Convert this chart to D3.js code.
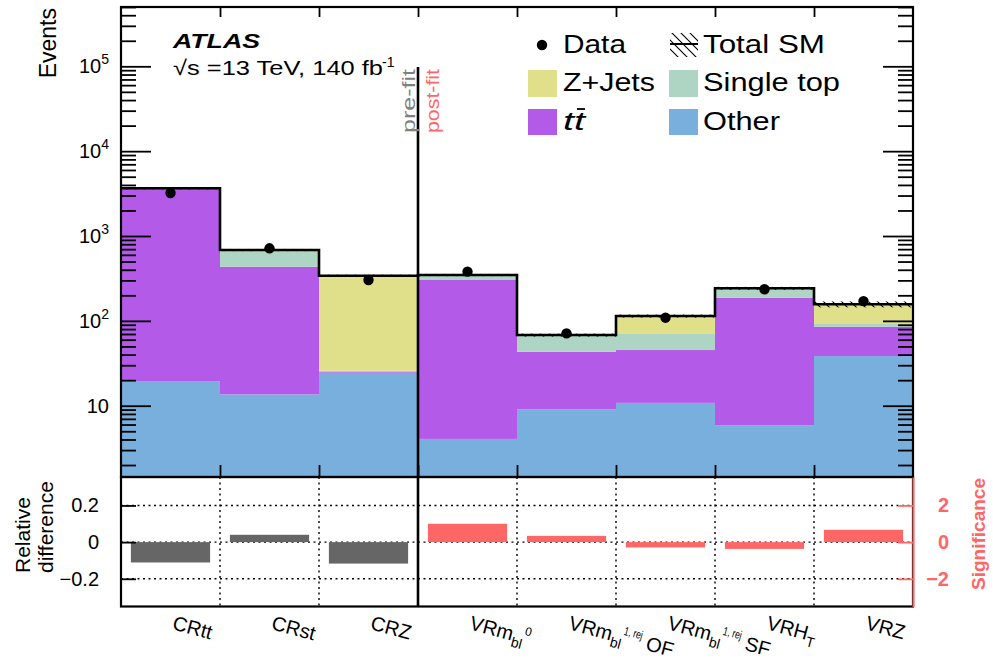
<!DOCTYPE html>
<html><head><meta charset="utf-8">
<script src="https://cdn.jsdelivr.net/npm/d3@7"></script>
<style>body{margin:0;background:#fff}svg{font-family:"Liberation Sans",Arial,Helvetica,sans-serif}</style>
</head><body><svg id="c" width="993" height="666"></svg>
<script>
// ---- data ----
const categories = ["CRtt","CRst","CRZ","VRm_{bl}^{0}","VRm_{bl}^{1, rej} OF","VRm_{bl}^{1, rej} SF","VRH_{T}","VRZ"];
const other     = [19.5, 13.6, 24.5, 4.06, 9.1, 10.8, 5.9, 38.5];
const ttbar     = [3580, 421, 0.8, 299, 34.2, 34.5, 181.6, 46.9];
const singleTop = [40, 245, 0.5, 40, 24, 26, 52, 6.5];
const zjets     = [10, 4, 314, 4, 0.7, 42.7, 2.5, 65];
const dataObs   = [3215, 716, 303, 380, 71.3, 109, 236, 171];
const totalUnc  = [0.03, 0.03, 0.03, 0.03, 0.04, 0.04, 0.04, 0.08];
const relDiff   = [-0.111, 0.040, -0.117];            // CR (pre-fit)
const significance = [1.0, 0.34, -0.29, -0.37, 0.67]; // VR (post-fit)
const yMajorTicks = [10, 100, 1000, 10000, 100000];
const lowerTicks = [-0.2, 0, 0.2];
const sigTicks = [-2, 0, 2];
const legendLabels = ["Data","Total SM","Z+Jets","Single top","tt","Other"];

// ---- layout ----
const X0=121, X1=913, YT=7, YM=477, YB=606.5;
const svg=d3.select("#c");
const nb=categories.length;
const x=d3.scaleLinear().domain([0,nb]).range([X0,X1]);
const y=d3.scaleLog().domain([1.445,5e5]).range([YM,YT]).clamp(true);
const yl=d3.scaleLinear().domain([-0.351,0.355]).range([YB,YM]);
const ys=d3.scaleLinear().domain([-3.51,3.55]).range([YB,YM]);

const keys=["other","ttbar","singleTop","zjets"];
const colors={other:"#79afdc",ttbar:"#b35ae9",singleTop:"#aed4c3",zjets:"#e0e08a"};
const rows=categories.map((c,i)=>({i,other:other[i],ttbar:ttbar[i],singleTop:singleTop[i],zjets:zjets[i]}));
const stacked=d3.stack().keys(keys)(rows);
const total=rows.map(r=>keys.reduce((s,k)=>s+r[k],0));

const defs=svg.append("defs");
const pat=defs.append("pattern").attr("id","hatch").attr("patternUnits","userSpaceOnUse").attr("width",9).attr("height",9);
pat.append("path").attr("d","M-1,-1L10,10M-5.5,3.5L5.5,14.5M3.5,-5.5L14.5,5.5").attr("stroke","#000").attr("stroke-width",1.1);

// stacked fills
const gS=svg.append("g");
stacked.forEach(layer=>{
  gS.selectAll(null).data(layer).enter().append("rect")
    .attr("x",d=>x(d.data.i)).attr("width",d=>x(d.data.i+1)-x(d.data.i))
    .attr("y",d=>y(d[1])).attr("height",d=>Math.max(0,y(Math.max(d[0],1e-3))-y(d[1])))
    .attr("fill",colors[layer.key]);
});
// uncertainty hatch
svg.append("g").selectAll("rect").data(total).enter().append("rect")
  .attr("x",(d,i)=>x(i)).attr("width",(d,i)=>x(i+1)-x(i))
  .attr("y",(d,i)=>y(d*(1+totalUnc[i]))).attr("height",(d,i)=>y(d*(1-totalUnc[i]))-y(d*(1+totalUnc[i])))
  .attr("fill","url(#hatch)");
// total outline
const pts=total.map((t,i)=>[i,t]).concat([[nb,total[nb-1]]]);
svg.append("path").attr("d",d3.line().x(d=>x(d[0])).y(d=>y(d[1])).curve(d3.curveStepAfter)(pts))
  .attr("fill","none").attr("stroke","#000").attr("stroke-width",2.6);
// data points
svg.append("g").selectAll("circle").data(dataObs).enter().append("circle")
  .attr("cx",(d,i)=>x(i+0.5)).attr("cy",d=>y(d)).attr("r",5.2).attr("fill","#000");

// ---- upper axes ----
const minorTicks=y.ticks().filter(v=>yMajorTicks.indexOf(v)<0 && Math.abs(Math.log10(v)%1)>1e-6);
function styleTicks(g,color){g.select(".domain").remove();g.selectAll(".tick line").attr("stroke",color||"#000").attr("stroke-width",1.8);}
svg.append("g").attr("transform",`translate(${X0},0)`).call(d3.axisLeft(y).tickValues(minorTicks).tickSize(-15).tickFormat("")).call(g=>styleTicks(g));
svg.append("g").attr("transform",`translate(${X1},0)`).call(d3.axisRight(y).tickValues(minorTicks).tickSize(-15).tickFormat("")).call(g=>styleTicks(g));
svg.append("g").attr("transform",`translate(${X1},0)`).call(d3.axisRight(y).tickValues(yMajorTicks).tickSize(-30).tickFormat("")).call(g=>styleTicks(g));
const gLM=svg.append("g").attr("transform",`translate(${X0},0)`)
  .call(d3.axisLeft(y).tickValues(yMajorTicks).tickSize(-30).tickPadding(12).tickFormat(""))
  .call(g=>styleTicks(g));
gLM.selectAll(".tick text").each(function(d){
  const t=d3.select(this).attr("font-size",20).attr("fill","#000").attr("font-family",null);
  const e=Math.round(Math.log10(d));
  t.append("tspan").text("10");
  if(e>1) t.append("tspan").attr("dy",-9).attr("font-size",14).text(e);
});
const edges=d3.range(1,nb);
svg.append("g").attr("transform",`translate(0,${YT})`).call(d3.axisTop(x).tickValues(edges).tickSize(-10).tickFormat("")).call(g=>styleTicks(g));
svg.append("g").attr("transform",`translate(0,${YM})`).call(d3.axisBottom(x).tickValues(edges).tickSize(-12).tickFormat("")).call(g=>styleTicks(g));

// ---- lower panel ----
const gG=svg.append("g").attr("stroke","#000").attr("stroke-width",1.4).attr("stroke-dasharray","2,3.5");
lowerTicks.forEach(v=>gG.append("line").attr("x1",X0).attr("x2",X1).attr("y1",yl(v)).attr("y2",yl(v)));
edges.filter(e=>e!==3).forEach(e=>gG.append("line").attr("x1",x(e)).attr("x2",x(e)).attr("y1",YM).attr("y2",YB));
// bars
svg.append("g").selectAll("rect").data(relDiff).enter().append("rect")
  .attr("x",(d,i)=>x(i+0.1)).attr("width",x(0.9)-x(0.1))
  .attr("y",d=>Math.min(yl(d),yl(0))).attr("height",d=>Math.abs(yl(d)-yl(0))).attr("fill","#666666");
svg.append("g").selectAll("rect").data(significance).enter().append("rect")
  .attr("x",(d,i)=>x(i+3+0.1)).attr("width",x(0.9)-x(0.1))
  .attr("y",d=>Math.min(ys(d),ys(0))).attr("height",d=>Math.abs(ys(d)-ys(0))).attr("fill","#ff6666");
// left lower axis
svg.append("g").attr("transform",`translate(${X0},0)`)
  .call(d3.axisLeft(yl).tickValues(lowerTicks).tickSize(-15).tickPadding(22).tickFormat(d=>d===0?"0":d3.format(".1f")(d)))
  .call(g=>styleTicks(g))
  .call(g=>g.selectAll(".tick text").attr("font-size",20).attr("fill","#000").attr("font-family",null));

// frames
svg.append("rect").attr("x",X0).attr("y",YT).attr("width",X1-X0).attr("height",YM-YT).attr("fill","none").attr("stroke","#000").attr("stroke-width",2.2);
svg.append("rect").attr("x",X0).attr("y",YM).attr("width",X1-X0).attr("height",YB-YM).attr("fill","none").attr("stroke","#000").attr("stroke-width",2.2);
// right significance axis
svg.append("g").attr("transform",`translate(${X1},0)`)
  .call(d3.axisRight(ys).tickValues(sigTicks).tickSize(-15).tickSizeOuter(0).tickFormat(d=>d3.format("d")(d)))
  .call(g=>{g.select(".domain").attr("stroke","#ff6666").attr("stroke-width",2);
    g.selectAll(".tick line").attr("stroke","#ff6666").attr("stroke-width",1.8);
    g.selectAll(".tick text").attr("x",36).attr("text-anchor","end").attr("font-size",20).attr("font-weight","bold").attr("fill","#ff6666").attr("font-family",null);});

// pre/post-fit separator
svg.append("line").attr("x1",x(3)).attr("x2",x(3)).attr("y1",67).attr("y2",YB).attr("stroke","#000").attr("stroke-width",2.6);
svg.append("text").attr("transform",`translate(415,69) rotate(-90)`).attr("text-anchor","end").attr("font-size",19)
  .attr("fill","#808080").attr("textLength",64).attr("lengthAdjust","spacingAndGlyphs").text("pre-fit");
svg.append("text").attr("transform",`translate(439,69) rotate(-90)`).attr("text-anchor","end").attr("font-size",19)
  .attr("fill","#ff6666").attr("textLength",64).attr("lengthAdjust","spacingAndGlyphs").text("post-fit");

// x labels
function addRich(t,str){
  const parts=str.split(/(_\{[^}]*\}|\^\{[^}]*\})/).filter(s=>s.length);
  let cur=0;
  parts.forEach(p=>{
    let target=0,fs=20,txt=p;
    if(p[0]==="_"){target=6;fs=14;txt=p.slice(2,-1);}
    else if(p[0]==="^"){target=-9;fs=12;txt=p.slice(2,-1);}
    const ts=t.append("tspan").attr("dy",target-cur).attr("font-size",fs).text(txt);
    if(p[0]==="^"&&txt.length>2) ts.attr("textLength",19).attr("lengthAdjust","spacingAndGlyphs");
    cur=target;
  });
}
categories.forEach((c,i)=>{
  const t=svg.append("text").attr("transform",`translate(${x(i+0.5)+1},629) rotate(15)`).attr("font-size",20).attr("xml:space","preserve").style("white-space","pre");
  addRich(t,c);
});

// axis titles
svg.append("text").attr("transform","translate(56,8) rotate(-90)").attr("text-anchor","end").attr("font-size",23).text("Events");
svg.append("text").attr("transform","translate(30,573) rotate(-90)").attr("font-size",21).text("Relative");
svg.append("text").attr("transform","translate(53,573) rotate(-90)").attr("font-size",21).text("difference");
svg.append("text").attr("transform","translate(985,534) rotate(-90)").attr("text-anchor","middle").attr("font-size",19)
  .attr("font-weight","bold").attr("fill","#ff6666").text("Significance");

// ATLAS label
svg.append("text").attr("x",173).attr("y",48).attr("font-size",20).attr("font-weight","bold").attr("font-style","italic")
  .attr("textLength",87).attr("lengthAdjust","spacingAndGlyphs").text("ATLAS");
svg.append("text").attr("x",173).attr("y",75).attr("font-size",21).attr("textLength",210).attr("lengthAdjust","spacingAndGlyphs").text("\u221As =13 TeV, 140 fb");
svg.append("text").attr("x",382).attr("y",67).attr("font-size",14).text("-1");

// legend
const lg=svg.append("g").attr("font-size",26);
lg.append("circle").attr("cx",542).attr("cy",45).attr("r",5.2).attr("fill","#000");
lg.append("text").attr("x",563).attr("y",53).attr("textLength",63).attr("lengthAdjust","spacingAndGlyphs").text(legendLabels[0]);
lg.append("rect").attr("x",670).attr("y",33).attr("width",28).attr("height",24).attr("fill","url(#hatch)");
lg.append("line").attr("x1",670).attr("x2",698).attr("y1",44).attr("y2",44).attr("stroke","#000").attr("stroke-width",2);
lg.append("text").attr("x",703).attr("y",53).attr("textLength",122).attr("lengthAdjust","spacingAndGlyphs").text(legendLabels[1]);
lg.append("rect").attr("x",528).attr("y",70).attr("width",29).attr("height",27).attr("fill",colors.zjets);
lg.append("text").attr("x",563).attr("y",91).attr("textLength",92).attr("lengthAdjust","spacingAndGlyphs").text(legendLabels[2]);
lg.append("rect").attr("x",669).attr("y",70).attr("width",29).attr("height",27).attr("fill",colors.singleTop);
lg.append("text").attr("x",703).attr("y",91).attr("textLength",137).attr("lengthAdjust","spacingAndGlyphs").text(legendLabels[3]);
lg.append("rect").attr("x",528).attr("y",109).attr("width",29).attr("height",26).attr("fill",colors.ttbar);
lg.append("text").attr("x",563).attr("y",130).attr("font-style","italic").attr("textLength",22).attr("lengthAdjust","spacingAndGlyphs").text(legendLabels[4]);
lg.append("line").attr("x1",577).attr("x2",585).attr("y1",109).attr("y2",109).attr("stroke","#000").attr("stroke-width",1.8);
lg.append("rect").attr("x",669).attr("y",109).attr("width",29).attr("height",26).attr("fill",colors.other);
lg.append("text").attr("x",703).attr("y",130).attr("textLength",77).attr("lengthAdjust","spacingAndGlyphs").text(legendLabels[5]);
</script></body></html>
